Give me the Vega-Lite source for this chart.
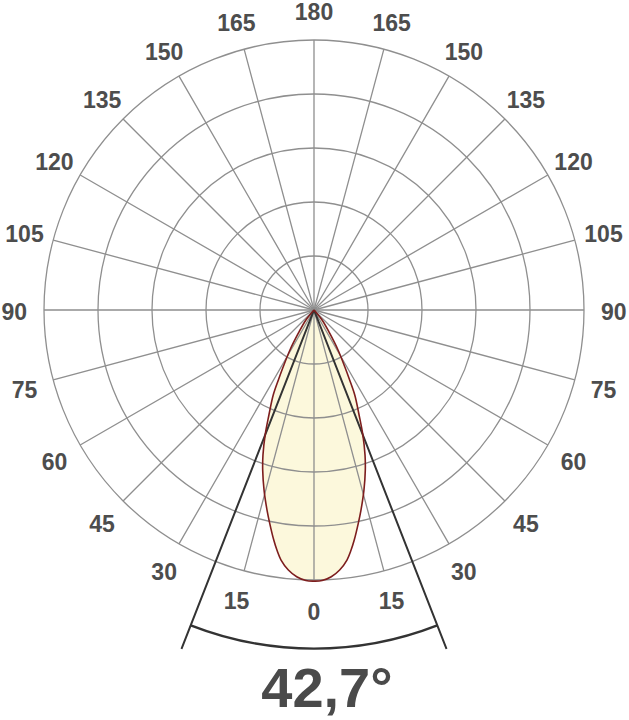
{
  "$schema": "https://vega.github.io/schema/vega-lite/v6.json",
  "width": 540,
  "height": 540,
  "autosize": {"type": "none"},
  "padding": {"left": 44, "top": 40, "right": 45, "bottom": 140},
  "background": "white",
  "config": {"view": {"stroke": null}},
  "datasets": {
    "rings": [{"r": 20}, {"r": 40}, {"r": 60}, {"r": 80}, {"r": 100}],
    "spokes": [{"a": 0}, {"a": 15}, {"a": 30}, {"a": 45}, {"a": 60}, {"a": 75}, {"a": 90}, {"a": 105}, {"a": 120}, {"a": 135}, {"a": 150}, {"a": 165}, {"a": 180}, {"a": 195}, {"a": 210}, {"a": 225}, {"a": 240}, {"a": 255}, {"a": 270}, {"a": 285}, {"a": 300}, {"a": 315}, {"a": 330}, {"a": 345}],
    "labels": [
      {"a": 180, "label": "0"},
      {"a": 165, "label": "15"}, {"a": 195, "label": "15"},
      {"a": 150, "label": "30"}, {"a": 210, "label": "30"},
      {"a": 135, "label": "45"}, {"a": 225, "label": "45"},
      {"a": 120, "label": "60"}, {"a": 240, "label": "60"},
      {"a": 105, "label": "75"}, {"a": 255, "label": "75"},
      {"a": 90, "label": "90"}, {"a": 270, "label": "90"},
      {"a": 75, "label": "105"}, {"a": 285, "label": "105"},
      {"a": 60, "label": "120"}, {"a": 300, "label": "120"},
      {"a": 45, "label": "135"}, {"a": 315, "label": "135"},
      {"a": 30, "label": "150"}, {"a": 330, "label": "150"},
      {"a": 15, "label": "165"}, {"a": 345, "label": "165"},
      {"a": 0, "label": "180"}
    ],
    "lobe": [
      {"d": 0, "xl": 0, "xr": 0},
      {"d": 3.7, "xl": -3.0, "xr": 3.0},
      {"d": 8.6, "xl": -5.8, "xr": 5.8},
      {"d": 14.8, "xl": -8.9, "xr": 8.9},
      {"d": 21.0, "xl": -11.4, "xr": 11.4},
      {"d": 25.9, "xl": -13.2, "xr": 13.2},
      {"d": 31.5, "xl": -15.1, "xr": 15.1},
      {"d": 38.9, "xl": -16.7, "xr": 16.7},
      {"d": 46.3, "xl": -18.1, "xr": 18.1},
      {"d": 53.7, "xl": -18.9, "xr": 18.9},
      {"d": 59.3, "xl": -19.0, "xr": 19.0},
      {"d": 66.7, "xl": -18.5, "xr": 18.5},
      {"d": 74.1, "xl": -17.4, "xr": 17.4},
      {"d": 79.0, "xl": -16.4, "xr": 16.4},
      {"d": 85.2, "xl": -14.9, "xr": 14.9},
      {"d": 89.0, "xl": -13.7, "xr": 13.7},
      {"d": 92.6, "xl": -12.2, "xr": 12.2},
      {"d": 96.3, "xl": -9.5, "xr": 9.5},
      {"d": 98.8, "xl": -6.4, "xr": 6.4},
      {"d": 100.2, "xl": -3.0, "xr": 3.0},
      {"d": 100.4, "xl": 0, "xr": 0}
    ],
    "beam": [{"a": 158.65}, {"a": 201.35}],
    "beamArc": [{"a0": 158.65, "a1": 201.35, "txt": "42,7°"}]
  },
  "layer": [
    {
      "data": {"name": "lobe"},
      "mark": {"type": "area", "orient": "horizontal", "interpolate": "catmull-rom", "fill": "#fcf8dc"},
      "encoding": {
        "y": {"field": "d", "type": "quantitative", "axis": null, "scale": {"domain": [-100, 100], "nice": false, "zero": false, "reverse": true}},
        "x": {"field": "xl", "type": "quantitative", "axis": null, "stack": null, "scale": {"domain": [-100, 100], "nice": false, "zero": false}},
        "x2": {"field": "xr"}
      }
    },
    {
      "data": {"name": "rings"},
      "mark": {"type": "arc", "filled": false, "color": "#8f8f8f", "strokeWidth": 1.3},
      "encoding": {
        "theta": {"datum": 0, "type": "quantitative", "stack": null, "scale": {"type": "linear", "domain": [0, 360], "range": [0, 6.283185307179586]}},
        "theta2": {"datum": 360},
        "radius": {"field": "r", "type": "quantitative", "stack": null, "scale": {"type": "linear", "domain": [0, 100], "range": [0, 270], "nice": false, "zero": true}}
      }
    },
    {
      "data": {"name": "spokes"},
      "mark": {"type": "arc", "filled": false, "color": "#8f8f8f", "strokeWidth": 1.3},
      "encoding": {
        "theta": {"field": "a", "type": "quantitative", "stack": null, "scale": {"type": "linear", "domain": [0, 360], "range": [0, 6.283185307179586]}},
        "theta2": {"field": "a"},
        "radius": {"datum": 100, "type": "quantitative", "stack": null, "scale": {"type": "linear", "domain": [0, 100], "range": [0, 270], "nice": false, "zero": true}}
      }
    },
    {
      "data": {"name": "beam"},
      "mark": {"type": "arc", "filled": false, "color": "#333333", "strokeWidth": 2},
      "encoding": {
        "theta": {"field": "a", "type": "quantitative", "stack": null, "scale": {"type": "linear", "domain": [0, 360], "range": [0, 6.283185307179586]}},
        "theta2": {"field": "a"},
        "radius": {"datum": 134.8, "type": "quantitative", "stack": null, "scale": {"type": "linear", "domain": [0, 100], "range": [0, 270], "nice": false, "zero": true}}
      }
    },
    {
      "data": {"name": "lobe"},
      "transform": [{"fold": ["xl", "xr"], "as": ["side", "xv"]}],
      "mark": {"type": "line", "interpolate": "catmull-rom", "stroke": "#7d1e1e", "strokeWidth": 1.6},
      "encoding": {
        "x": {"field": "xv", "type": "quantitative"},
        "y": {"field": "d", "type": "quantitative"},
        "detail": {"field": "side"},
        "order": {"field": "d", "type": "quantitative"}
      }
    },
    {
      "data": {"name": "beamArc"},
      "mark": {"type": "arc", "filled": false, "color": "#333333", "strokeWidth": 2.4},
      "encoding": {
        "theta": {"field": "a0", "type": "quantitative", "stack": null, "scale": {"type": "linear", "domain": [0, 360], "range": [0, 6.283185307179586]}},
        "theta2": {"field": "a1"},
        "radius": {"datum": 125.4, "type": "quantitative", "stack": null, "scale": {"type": "linear", "domain": [0, 100], "range": [0, 270], "nice": false, "zero": true}},
        "radius2": {"datum": 125.4}
      }
    },
    {
      "data": {"name": "labels"},
      "mark": {"type": "text", "font": "Liberation Sans", "fontWeight": "bold", "fontSize": 23, "color": "#4d4d4d", "align": "center", "baseline": "middle", "dy": 3},
      "encoding": {
        "theta": {"field": "a", "type": "quantitative", "stack": null, "scale": {"type": "linear", "domain": [0, 360], "range": [0, 6.283185307179586]}},
        "radius": {"datum": 111, "type": "quantitative", "stack": null, "scale": {"type": "linear", "domain": [0, 100], "range": [0, 270], "nice": false, "zero": true}},
        "text": {"field": "label"}
      }
    },
    {
      "data": {"name": "beamArc"},
      "mark": {"type": "text", "font": "Liberation Sans", "fontWeight": "bold", "fontSize": 56, "color": "#4a4a4a", "align": "center", "baseline": "alphabetic"},
      "encoding": {
        "x": {"datum": 4.8, "type": "quantitative"},
        "y": {"datum": 147.0, "type": "quantitative"},
        "text": {"field": "txt"}
      }
    }
  ]
}
